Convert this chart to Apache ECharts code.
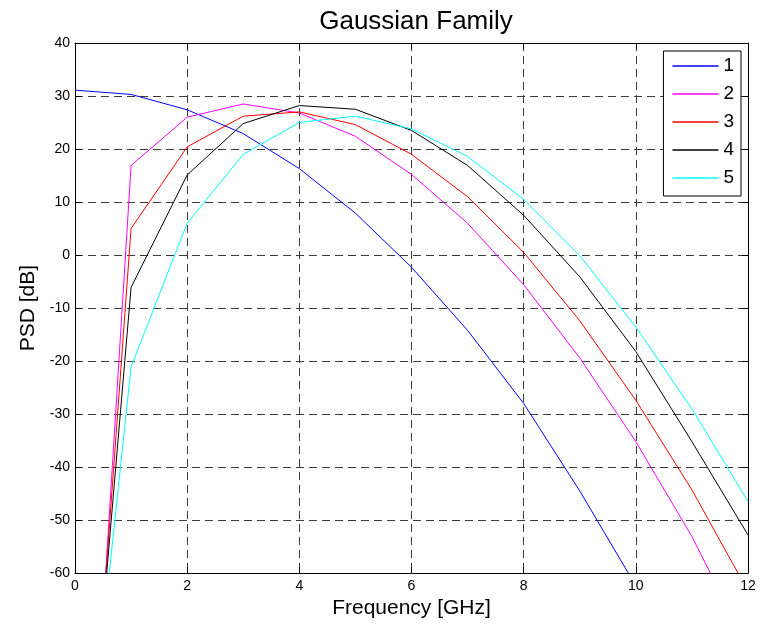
<!DOCTYPE html>
<html>
<head>
<meta charset="utf-8">
<script src="https://cdn.jsdelivr.net/npm/echarts@6/dist/echarts.min.js"></script>
<style>
html,body{margin:0;padding:0;background:#fff;}
#chart{width:762px;height:624px;}
</style>
</head>
<body>
<div id="chart"></div>
<script>
// Frequency samples (GHz)
const freqs = [0, 0.5, 1, 2, 3, 4, 5, 6, 7, 8, 9, 10, 11, 12];
// PSD values (dB) for each member of the Gaussian family
const psd1 = [31.1, null, 30.3, 27.4, 22.9, 16.3, 7.9, -2.3, -14.2, -28.0, -44.5, -62.4, -83, -106];
const psd2 = [null, -68.0, 16.9, 26.0, 28.5, 26.8, 22.4, 15.2, 6.0, -5.6, -19.4, -35.2, -53.1, -74];
const psd3 = [null, -67.7, 5.0, 20.4, 26.2, 27.0, 24.6, 19.0, 11.0, 0.5, -12.4, -27.4, -44.3, -63.4];
const psd4 = [null, -68.1, -6.1, 15.1, 24.8, 28.2, 27.5, 23.5, 16.9, 7.5, -4.1, -18.2, -35.2, -52.8];
const psd5 = [null, -71.1, -21.1, 6.0, 19.0, 25.0, 26.2, 23.8, 18.6, 10.5, -0.1, -13.6, -29.0, -46.5];
const seriesNames = ['1', '2', '3', '4', '5'];
const seriesColors = ['#0000ff', '#ff00ff', '#ff0000', '#000000', '#00ffff'];
const allSeries = [psd1, psd2, psd3, psd4, psd5];

const FONT = 'Liberation Sans, Arial, Helvetica, sans-serif';
const chart = echarts.init(document.getElementById('chart'), null, {renderer: 'canvas'});

const gridLine = {show: true, lineStyle: {color: '#3a3a3a', width: 1, type: [8, 5]}};
const frame = {show: true, onZero: false, lineStyle: {color: '#000', width: 1}};
const tickIn = {show: true, inside: true, length: 6, lineStyle: {color: '#000'}};

const option = {
  animation: false,
  backgroundColor: '#fff',
  title: {
    text: 'Gaussian Family',
    left: 411,
    textAlign: 'center',
    top: 4,
    textStyle: {fontFamily: FONT, fontSize: 26, fontWeight: 'normal', color: '#000'}
  },
  grid: {left: 75, right: 14, top: 43, bottom: 49, containLabel: false},
  legend: {
    orient: 'vertical',
    right: 21,
    top: 51,
    icon: 'rect',
    itemWidth: 46,
    itemHeight: 1.5,
    itemGap: 8,
    padding: [5, 7, 8, 9],
    backgroundColor: '#fff',
    borderColor: '#000',
    borderWidth: 1,
    borderRadius: 0,
    textStyle: {fontFamily: FONT, fontSize: 19, color: '#000', lineHeight: 20},
    data: seriesNames
  },
  xAxis: [{
    type: 'value', position: 'bottom', min: 0, max: 12, interval: 2,
    name: 'Frequency [GHz]', nameLocation: 'middle', nameGap: 23,
    nameTextStyle: {fontFamily: FONT, fontSize: 21, color: '#000'},
    axisLine: frame, axisTick: tickIn, splitLine: gridLine,
    axisLabel: {fontFamily: FONT, fontSize: 14, color: '#000', margin: 6}
  }, {
    type: 'value', position: 'top', min: 0, max: 12, interval: 2,
    axisLine: frame, axisTick: tickIn, splitLine: {show: false},
    axisLabel: {show: false}
  }],
  yAxis: [{
    type: 'value', position: 'left', min: -60, max: 40, interval: 10,
    name: 'PSD [dB]', nameLocation: 'middle', nameGap: 31,
    nameTextStyle: {fontFamily: FONT, fontSize: 21, color: '#000'},
    axisLine: frame, axisTick: tickIn, splitLine: gridLine,
    axisLabel: {fontFamily: FONT, fontSize: 14, color: '#000', margin: 5}
  }, {
    type: 'value', position: 'right', min: -60, max: 40, interval: 10,
    axisLine: frame, axisTick: tickIn, splitLine: {show: false},
    axisLabel: {show: false}
  }],
  series: allSeries.map((vals, k) => ({
    name: seriesNames[k],
    type: 'line',
    xAxisIndex: 0,
    yAxisIndex: 0,
    symbol: 'none',
    connectNulls: k === 0,
    clip: true,
    color: seriesColors[k],
    lineStyle: {color: seriesColors[k], width: 1},
    data: freqs.map((f, i) => [f, vals[i]])
  }))
};
chart.setOption(option);
</script>
</body>
</html>
